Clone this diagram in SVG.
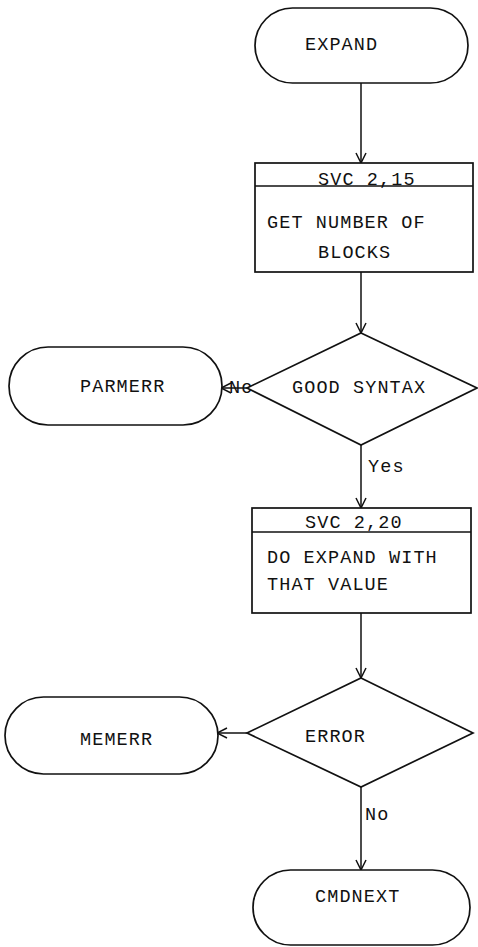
<svg xmlns="http://www.w3.org/2000/svg" width="478" height="947" viewBox="0 0 478 947">
<style>
.s{fill:#fff;stroke:#111;stroke-width:1.7}
.t{font-family:"Liberation Mono",monospace;font-size:18.5px;letter-spacing:1.1px;fill:#111}
.c{fill:none;stroke:#111;stroke-width:1.5}
</style>
<defs>
<marker id="a" viewBox="0 0 12 12" refX="11" refY="6" markerWidth="12" markerHeight="12" markerUnits="userSpaceOnUse" orient="auto">
<path d="M1,1 L11,6 L1,11" fill="none" stroke="#111" stroke-width="1.5"/>
</marker>
</defs>
<g id="connectors">
<line class="c" x1="361" y1="83" x2="361" y2="163" marker-end="url(#a)"/>
<line class="c" x1="361" y1="272" x2="361" y2="333" marker-end="url(#a)"/>
<line class="c" x1="247" y1="388" x2="221" y2="388" marker-end="url(#a)"/>
<line class="c" x1="361" y1="445" x2="361" y2="508" marker-end="url(#a)"/>
<line class="c" x1="361" y1="613" x2="361" y2="678" marker-end="url(#a)"/>
<line class="c" x1="247" y1="733" x2="217" y2="733" marker-end="url(#a)"/>
<line class="c" x1="361" y1="787" x2="361" y2="870" marker-end="url(#a)"/>
<text class="t" x="229" y="393">No</text>
<text class="t" x="368" y="472">Yes</text>
<text class="t" x="365" y="820">No</text>
</g>
<g id="expand">
<rect class="s" x="255" y="8" width="213" height="75" rx="37.5"/>
<text class="t" x="305" y="50">EXPAND</text>
</g>
<g id="svc215">
<rect class="s" x="255" y="163" width="218" height="109"/>
<line class="c" x1="255" y1="186" x2="473" y2="186"/>
<text class="t" x="318" y="185">SVC 2,15</text>
<text class="t" x="267" y="228">GET NUMBER OF</text>
<text class="t" x="318" y="258">BLOCKS</text>
</g>
<g id="goodsyntax">
<polygon class="s" points="361,333 477,388 361,445 247,388"/>
<text class="t" x="292" y="393">GOOD SYNTAX</text>
</g>
<g id="parmerr">
<rect class="s" x="9" y="347" width="213" height="78" rx="39"/>
<text class="t" x="80" y="392">PARMERR</text>
</g>
<g id="svc220">
<rect class="s" x="252" y="508" width="219" height="105"/>
<line class="c" x1="252" y1="532" x2="471" y2="532"/>
<text class="t" x="305" y="528">SVC 2,20</text>
<text class="t" x="267" y="563">DO EXPAND WITH</text>
<text class="t" x="267" y="590">THAT VALUE</text>
</g>
<g id="error">
<polygon class="s" points="361,678 473,733 361,787 247,733"/>
<text class="t" x="305" y="742">ERROR</text>
</g>
<g id="memerr">
<rect class="s" x="5" y="697" width="213" height="77" rx="38.5"/>
<text class="t" x="80" y="745">MEMERR</text>
</g>
<g id="cmdnext">
<rect class="s" x="253" y="870" width="217" height="75" rx="37.5"/>
<text class="t" x="315" y="902">CMDNEXT</text>
</g>
</svg>
